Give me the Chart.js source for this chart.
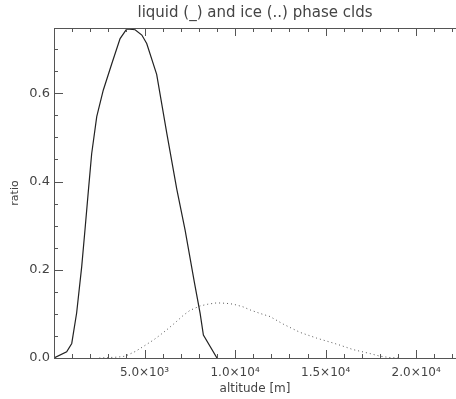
<!DOCTYPE html>
<html><head><meta charset="utf-8">
<script src="https://cdn.jsdelivr.net/npm/chart.js@4"></script>
<style>html,body{margin:0;padding:0;background:#fff}#wrap{width:456px;height:399px}</style>
</head><body><div id="wrap"><canvas id="c" width="456" height="399"></canvas></div>
<script>
const liquidAlt   = [0, 700, 980, 1250, 1530, 1710, 1900, 2080, 2360, 2720, 3190, 3650, 4020, 4480, 4850, 5120, 5670, 6230, 6780, 7240, 7750, 8070, 8250, 9000];
const liquidRatio = [0, 0.014, 0.033, 0.102, 0.207, 0.29, 0.38, 0.463, 0.547, 0.607, 0.667, 0.724, 0.746, 0.744, 0.732, 0.713, 0.643, 0.509, 0.383, 0.29, 0.172, 0.101, 0.052, 0.0];
const iceAlt   = [2500, 3000, 3500, 3920, 4500, 4930, 5500, 5860, 6230, 6690, 7150, 7510, 8070, 8500, 8990, 9500, 9900, 10440, 10830, 11380, 11930, 12650, 13590, 14510, 15410, 15800, 16520, 17460, 18010, 18560, 19000];
const iceRatio = [0, 0.001, 0.002, 0.004, 0.015, 0.026, 0.041, 0.052, 0.064, 0.08, 0.097, 0.108, 0.118, 0.122, 0.125, 0.124, 0.122, 0.116, 0.109, 0.101, 0.094, 0.077, 0.058, 0.045, 0.034, 0.029, 0.019, 0.010, 0.004, 0.001, 0];
const xTickValues = [5000, 10000, 15000, 20000];
const xTickLabels = ['5.0×10³', '1.0×10⁴', '1.5×10⁴', '2.0×10⁴'];
const yTickValues = [0, 0.2, 0.4, 0.6];
const yTickLabels = ['0.0', '0.2', '0.4', '0.6'];

const FONT = 'DejaVu Sans';
const TXT = '#444';

const axesPlugin = {
  id: 'axesPlugin',
  afterDraw(chart) {
    const {ctx, chartArea: a, scales: {x, y}} = chart;
    ctx.save();
    ctx.strokeStyle = '#555';
    ctx.lineWidth = 1;
    ctx.beginPath();
    ctx.moveTo(a.left + 0.5, a.top); ctx.lineTo(a.left + 0.5, a.bottom + 1);
    ctx.moveTo(a.left, a.bottom + 0.5); ctx.lineTo(a.right, a.bottom + 0.5);
    ctx.moveTo(a.left, a.top + 0.5); ctx.lineTo(a.right, a.top + 0.5);
    for (let i = 0; i * 1000 <= x.max; i++) {
      const px = Math.round(x.getPixelForValue(i * 1000)) + 0.5;
      const len = i % 5 === 0 ? 8 : 4;
      ctx.moveTo(px, a.bottom); ctx.lineTo(px, a.bottom - len);
      ctx.moveTo(px, a.top); ctx.lineTo(px, a.top + len);
    }
    for (let i = 0; i * 0.05 <= y.max + 1e-9; i++) {
      const py = Math.round(y.getPixelForValue(i * 0.05)) + 0.5;
      const len = i % 4 === 0 ? 9 : 4;
      ctx.moveTo(a.left, py); ctx.lineTo(a.left + len, py);
    }
    ctx.stroke();
    ctx.restore();
  }
};

new Chart(document.getElementById('c'), {
  type: 'line',
  data: {
    datasets: [
      {
        label: 'liquid',
        data: liquidAlt.map((v, i) => ({x: v, y: liquidRatio[i]})),
        borderColor: '#222', borderWidth: 1.2, pointRadius: 0, tension: 0, fill: false
      },
      {
        label: 'ice',
        data: iceAlt.map((v, i) => ({x: v, y: iceRatio[i]})),
        borderColor: '#555', borderWidth: 1, borderDash: [1, 3], pointRadius: 0, tension: 0, fill: false
      }
    ]
  },
  options: {
    responsive: false, animation: false, devicePixelRatio: 1,
    layout: {padding: 0},
    plugins: {
      legend: {display: false},
      tooltip: {enabled: false},
      title: {
        display: true, fullSize: false,
        text: 'liquid (_) and ice (..) phase clds',
        color: TXT, font: {family: FONT, size: 15, weight: 'normal'},
        padding: {top: 4, bottom: 6}
      }
    },
    scales: {
      x: {
        type: 'linear', min: 0, max: 22200,
        afterBuildTicks: s => { s.ticks = xTickValues.map(v => ({value: v})); },
        afterFit: s => { s.height = 41; },
        ticks: {
          color: TXT, font: {family: FONT, size: 12}, padding: 8, maxRotation: 0,
          callback: v => xTickLabels[xTickValues.indexOf(v)]
        },
        grid: {display: false, drawTicks: false},
        border: {display: false},
        title: {display: true, text: 'altitude [m]', color: TXT, font: {family: FONT, size: 12}, padding: {top: 0, bottom: 2.8}}
      },
      y: {
        type: 'linear', min: 0, max: 0.748,
        afterBuildTicks: s => { s.ticks = yTickValues.map(v => ({value: v})); },
        afterFit: s => { s.width = 54; },
        ticks: {
          color: TXT, font: {family: FONT, size: 13}, padding: 4,
          callback: v => yTickLabels[yTickValues.indexOf(v)]
        },
        grid: {display: false, drawTicks: false},
        border: {display: false},
        title: {display: true, text: 'ratio', color: TXT, font: {family: FONT, size: 11}, padding: {top: 8.4, bottom: 0}}
      }
    }
  },
  plugins: [axesPlugin]
});
</script>
</body></html>
